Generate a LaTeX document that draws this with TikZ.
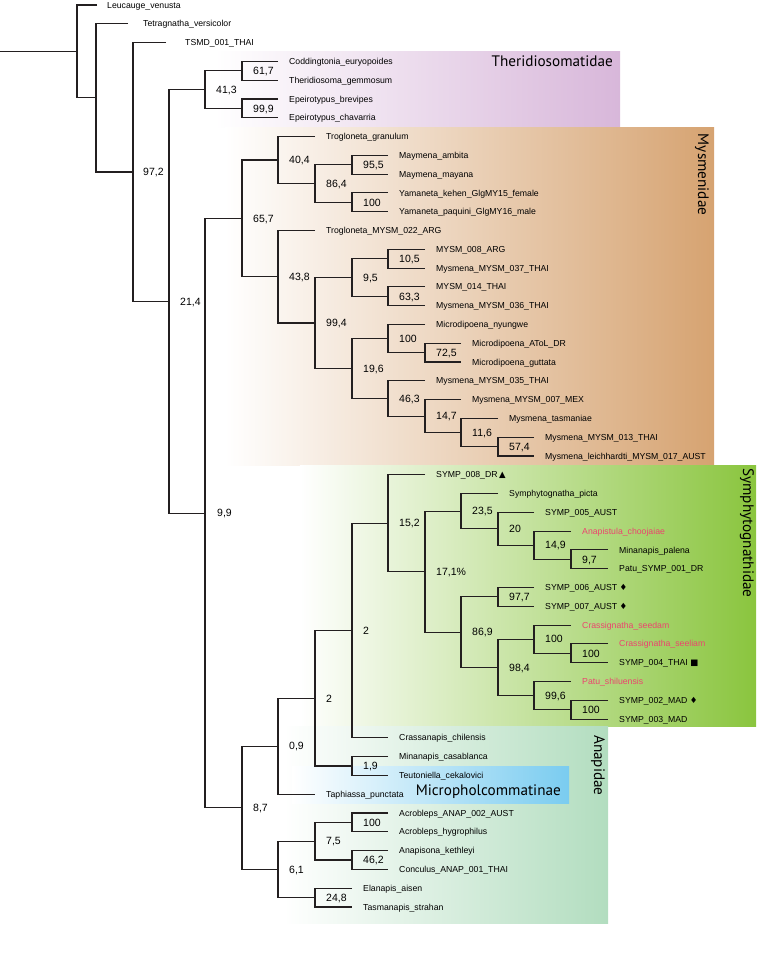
\documentclass[tikz,border=0pt]{standalone}
\usepackage{fontspec}
\setmainfont{Liberation Sans}
\newfontfamily\famfont{PT Sans}
\newfontfamily\symfont{DejaVu Sans}
\usetikzlibrary{positioning}

\definecolor{treeline}{RGB}{35,31,32}
\definecolor{theridark}{RGB}{216,183,218}
\definecolor{mysmdark}{RGB}{214,163,113}
\definecolor{sympdark}{RGB}{138,197,62}
\definecolor{anapdark}{RGB}{178,221,191}
\definecolor{microdark}{RGB}{122,204,240}
\definecolor{newsp}{RGB}{236,68,110}

\newcommand{\spsym}[1]{{\symfont\fontsize{8.5}{9}\selectfont #1}}

\begin{document}
\begin{tikzpicture}[x=1pt,y=-18.79pt,
  branch/.style={line width=1.1pt,color=treeline},
  leaf/.style={anchor=west,inner sep=0pt,text height=6.2pt,text depth=0pt,
    font=\fontsize{8.7}{10}\selectfont},
  redleaf/.style={leaf,text=newsp},
  boot/.style={anchor=west,inner sep=0pt,text height=7.5pt,text depth=0pt,
    font=\fontsize{10.5}{12}\selectfont},
  family/.style={inner sep=0pt,font=\famfont\fontsize{15.2}{18}\selectfont}]

\useasboundingbox (0,-0.266) rectangle (756,50.61);

% family boxes
\shade[left color=white,right color=theridark] (215,2.5) rectangle (620,6.5);
\shade[left color=white,right color=mysmdark] (225,6.5) rectangle (714,24.5);
\shade[left color=white,right color=sympdark] (300,24.5) rectangle (756,38.4);
\shade[left color=white,right color=anapdark] (284,38.4) rectangle (608,48.9);
\shade[left color=white,right color=microdark] (292,40.5) rectangle (569,42.5);

% inner nodes
\coordinate (root) at (0,2.471);
\coordinate (A) at (77,2.471);
\coordinate (B) at (96,4.942);
\coordinate (n972) at (133,8.885);
\coordinate (n214) at (169,15.770);
\coordinate (n413) at (205,4.5);
\coordinate (n617) at (242,3.5);
\coordinate (n999) at (242,5.5);
\coordinate (n99) at (205,27.040);
\coordinate (n657) at (242,11.355);
\coordinate (n404) at (278,8.25);
\coordinate (n864) at (315,9.5);
\coordinate (n955) at (352,8.5);
\coordinate (n100a) at (352,10.5);
\coordinate (n438) at (278,14.461);
\coordinate (n994) at (315,16.922);
\coordinate (n95) at (352,14.5);
\coordinate (n105) at (388,13.5);
\coordinate (n633) at (388,15.5);
\coordinate (n196) at (352,19.344);
\coordinate (n100b) at (388,17.75);
\coordinate (n725) at (425,18.5);
\coordinate (n463) at (388,20.938);
\coordinate (n147) at (425,21.875);
\coordinate (n116) at (461,22.75);
\coordinate (n574) at (498,23.5);
\coordinate (n87) at (242,42.724);
\coordinate (n09) at (278,39.447);
\coordinate (n2b) at (315,36.895);
\coordinate (n2a) at (352,33.289);
\coordinate (n152) at (388,27.578);
\coordinate (n171) at (425,30.156);
\coordinate (n235) at (461,26.938);
\coordinate (n20) at (498,27.875);
\coordinate (n149) at (534,28.75);
\coordinate (n97) at (571,29.5);
\coordinate (n869) at (461,33.375);
\coordinate (n977) at (498,31.5);
\coordinate (n984) at (498,35.25);
\coordinate (n100d) at (534,33.75);
\coordinate (n100c) at (571,34.5);
\coordinate (n996) at (534,36.75);
\coordinate (n100e) at (571,37.5);
\coordinate (n19) at (352,40.5);
\coordinate (n61) at (278,46);
\coordinate (n75) at (315,44.5);
\coordinate (n100f) at (352,43.5);
\coordinate (n462) at (352,45.5);
\coordinate (n248) at (315,47.5);

% tips
\coordinate (e0) at (97,0);
\coordinate (e1) at (128,1);
\coordinate (e2) at (166,2);
\coordinate (e3) at (278,3);
\coordinate (e4) at (278,4);
\coordinate (e5) at (278,5);
\coordinate (e6) at (278,6);
\coordinate (e7) at (315,7);
\coordinate (e8) at (388,8);
\coordinate (e9) at (388,9);
\coordinate (e10) at (388,10);
\coordinate (e11) at (388,11);
\coordinate (e12) at (315,12);
\coordinate (e13) at (425,13);
\coordinate (e14) at (425,14);
\coordinate (e15) at (425,15);
\coordinate (e16) at (425,16);
\coordinate (e17) at (425,17);
\coordinate (e18) at (461,18);
\coordinate (e19) at (461,19);
\coordinate (e20) at (425,20);
\coordinate (e21) at (461,21);
\coordinate (e22) at (498,22);
\coordinate (e23) at (534,23);
\coordinate (e24) at (534,24);
\coordinate (e25) at (425,25);
\coordinate (e26) at (498,26);
\coordinate (e27) at (534,27);
\coordinate (e28) at (571,28);
\coordinate (e29) at (608,29);
\coordinate (e30) at (608,30);
\coordinate (e31) at (534,31);
\coordinate (e32) at (534,32);
\coordinate (e33) at (571,33);
\coordinate (e34) at (608,34);
\coordinate (e35) at (608,35);
\coordinate (e36) at (571,36);
\coordinate (e37) at (608,37);
\coordinate (e38) at (608,38);
\coordinate (e39) at (388,39);
\coordinate (e40) at (388,40);
\coordinate (e41) at (388,41);
\coordinate (e42) at (315,42);
\coordinate (e43) at (388,43);
\coordinate (e44) at (388,44);
\coordinate (e45) at (388,45);
\coordinate (e46) at (388,46);
\coordinate (e47) at (352,47);
\coordinate (e48) at (352,48);

% branches
\draw[branch] (root) -- (A);
\draw[branch] (e0) -| (A) |- (B);
\draw[branch] (e1) -| (B) |- (n972);
\draw[branch] (e2) -| (n972) |- (n214);
\draw[branch] (n413) -| (n214) |- (n99);
\draw[branch] (n617) -| (n413) |- (n999);
\draw[branch] (e3) -| (n617) |- (e4);
\draw[branch] (e5) -| (n999) |- (e6);
\draw[branch] (n657) -| (n99) |- (n87);
\draw[branch] (n404) -| (n657) |- (n438);
\draw[branch] (e7) -| (n404) |- (n864);
\draw[branch] (n955) -| (n864) |- (n100a);
\draw[branch] (e8) -| (n955) |- (e9);
\draw[branch] (e10) -| (n100a) |- (e11);
\draw[branch] (e12) -| (n438) |- (n994);
\draw[branch] (n95) -| (n994) |- (n196);
\draw[branch] (n105) -| (n95) |- (n633);
\draw[branch] (e13) -| (n105) |- (e14);
\draw[branch] (e15) -| (n633) |- (e16);
\draw[branch] (n100b) -| (n196) |- (n463);
\draw[branch] (e17) -| (n100b) |- (n725);
\draw[branch] (e18) -| (n725) |- (e19);
\draw[branch] (e20) -| (n463) |- (n147);
\draw[branch] (e21) -| (n147) |- (n116);
\draw[branch] (e22) -| (n116) |- (n574);
\draw[branch] (e23) -| (n574) |- (e24);
\draw[branch] (n09) -| (n87) |- (n61);
\draw[branch] (n2b) -| (n09) |- (e42);
\draw[branch] (n2a) -| (n2b) |- (n19);
\draw[branch] (n152) -| (n2a) |- (e39);
\draw[branch] (e25) -| (n152) |- (n171);
\draw[branch] (n235) -| (n171) |- (n869);
\draw[branch] (e26) -| (n235) |- (n20);
\draw[branch] (e27) -| (n20) |- (n149);
\draw[branch] (e28) -| (n149) |- (n97);
\draw[branch] (e29) -| (n97) |- (e30);
\draw[branch] (n977) -| (n869) |- (n984);
\draw[branch] (e31) -| (n977) |- (e32);
\draw[branch] (n100d) -| (n984) |- (n996);
\draw[branch] (e33) -| (n100d) |- (n100c);
\draw[branch] (e34) -| (n100c) |- (e35);
\draw[branch] (e36) -| (n996) |- (n100e);
\draw[branch] (e37) -| (n100e) |- (e38);
\draw[branch] (e40) -| (n19) |- (e41);
\draw[branch] (n75) -| (n61) |- (n248);
\draw[branch] (n100f) -| (n75) |- (n462);
\draw[branch] (e43) -| (n100f) |- (e44);
\draw[branch] (e45) -| (n462) |- (e46);
\draw[branch] (e47) -| (n248) |- (e48);

% support values
\node[boot,right=10pt of n972] (b972) {97,2};
\node[boot,right=11pt of n214] (b214) {21,4};
\node[boot,right=11pt of n413] (b413) {41,3};
\node[boot,right=11pt of n617] (b617) {61,7};
\node[boot,right=11pt of n999] (b999) {99,9};
\node[boot,right=12pt of n99] (b99) {9,9};
\node[boot,right=11pt of n657] (b657) {65,7};
\node[boot,right=11pt of n404] (b404) {40,4};
\node[boot,right=11pt of n864] (b864) {86,4};
\node[boot,right=11pt of n955] (b955) {95,5};
\node[boot,right=11pt of n100a] (b100a) {100};
\node[boot,right=11pt of n438] (b438) {43,8};
\node[boot,right=11pt of n994] (b994) {99,4};
\node[boot,right=11pt of n95] (b95) {9,5};
\node[boot,right=11pt of n105] (b105) {10,5};
\node[boot,right=11pt of n633] (b633) {63,3};
\node[boot,right=11pt of n196] (b196) {19,6};
\node[boot,right=11pt of n100b] (b100b) {100};
\node[boot,right=11pt of n725] (b725) {72,5};
\node[boot,right=11pt of n463] (b463) {46,3};
\node[boot,right=11pt of n147] (b147) {14,7};
\node[boot,right=11pt of n116] (b116) {11,6};
\node[boot,right=11pt of n574] (b574) {57,4};
\node[boot,right=11pt of n87] (b87) {8,7};
\node[boot,right=11pt of n09] (b09) {0,9};
\node[boot,right=11pt of n2b] (b2b) {2};
\node[boot,right=11pt of n2a] (b2a) {2};
\node[boot,right=11pt of n152] (b152) {15,2};
\node[boot,right=11pt of n171] (b171) {17,1\%};
\node[boot,right=11pt of n235] (b235) {23,5};
\node[boot,right=11pt of n20] (b20) {20};
\node[boot,right=11pt of n149] (b149) {14,9};
\node[boot,right=11pt of n97] (b97) {9,7};
\node[boot,right=11pt of n869] (b869) {86,9};
\node[boot,right=11pt of n977] (b977) {97,7};
\node[boot,right=11pt of n984] (b984) {98,4};
\node[boot,right=11pt of n100d] (b100d) {100};
\node[boot,right=11pt of n100c] (b100c) {100};
\node[boot,right=11pt of n996] (b996) {99,6};
\node[boot,right=11pt of n100e] (b100e) {100};
\node[boot,right=11pt of n19] (b19) {1,9};
\node[boot,right=11pt of n61] (b61) {6,1};
\node[boot,right=11pt of n75] (b75) {7,5};
\node[boot,right=11pt of n100f] (b100f) {100};
\node[boot,right=11pt of n462] (b462) {46,2};
\node[boot,right=11pt of n248] (b248) {24,8};

% taxa
\node[leaf,right=10pt of e0] (t0) {Leucauge\_venusta};
\node[leaf,right=15pt of e1] (t1) {Tetragnatha\_versicolor};
\node[leaf,right=19pt of e2] (t2) {TSMD\_001\_THAI};
\node[leaf,right=11pt of e3] (t3) {Coddingtonia\_euryopoides};
\node[leaf,right=11pt of e4] (t4) {Theridiosoma\_gemmosum};
\node[leaf,right=11pt of e5] (t5) {Epeirotypus\_brevipes};
\node[leaf,right=11pt of e6] (t6) {Epeirotypus\_chavarria};
\node[leaf,right=11pt of e7] (t7) {Trogloneta\_granulum};
\node[leaf,right=11pt of e8] (t8) {Maymena\_ambita};
\node[leaf,right=11pt of e9] (t9) {Maymena\_mayana};
\node[leaf,right=11pt of e10] (t10) {Yamaneta\_kehen\_GlgMY15\_female};
\node[leaf,right=11pt of e11] (t11) {Yamaneta\_paquini\_GlgMY16\_male};
\node[leaf,right=11pt of e12] (t12) {Trogloneta\_MYSM\_022\_ARG};
\node[leaf,right=11pt of e13] (t13) {MYSM\_008\_ARG};
\node[leaf,right=11pt of e14] (t14) {Mysmena\_MYSM\_037\_THAI};
\node[leaf,right=11pt of e15] (t15) {MYSM\_014\_THAI};
\node[leaf,right=11pt of e16] (t16) {Mysmena\_MYSM\_036\_THAI};
\node[leaf,right=11pt of e17] (t17) {Microdipoena\_nyungwe};
\node[leaf,right=11pt of e18] (t18) {Microdipoena\_AToL\_DR};
\node[leaf,right=11pt of e19] (t19) {Microdipoena\_guttata};
\node[leaf,right=11pt of e20] (t20) {Mysmena\_MYSM\_035\_THAI};
\node[leaf,right=11pt of e21] (t21) {Mysmena\_MYSM\_007\_MEX};
\node[leaf,right=11pt of e22] (t22) {Mysmena\_tasmaniae};
\node[leaf,right=11pt of e23] (t23) {Mysmena\_MYSM\_013\_THAI};
\node[leaf,right=11pt of e24] (t24) {Mysmena\_leichhardti\_MYSM\_017\_AUST};
\node[leaf,right=11pt of e25] (t25) {SYMP\_008\_DR\,\spsym{▲}};
\node[leaf,right=11pt of e26] (t26) {Symphytognatha\_picta};
\node[leaf,right=11pt of e27] (t27) {SYMP\_005\_AUST};
\node[redleaf,right=11pt of e28] (t28) {Anapistula\_choojaiae};
\node[leaf,right=11pt of e29] (t29) {Minanapis\_palena};
\node[leaf,right=11pt of e30] (t30) {Patu\_SYMP\_001\_DR};
\node[leaf,right=11pt of e31] (t31) {SYMP\_006\_AUST \spsym{♦}};
\node[leaf,right=11pt of e32] (t32) {SYMP\_007\_AUST \spsym{♦}};
\node[redleaf,right=11pt of e33] (t33) {Crassignatha\_seedam};
\node[redleaf,right=11pt of e34] (t34) {Crassignatha\_seeliam};
\node[leaf,right=11pt of e35] (t35) {SYMP\_004\_THAI \spsym{■}};
\node[redleaf,right=11pt of e36] (t36) {Patu\_shiluensis};
\node[leaf,right=11pt of e37] (t37) {SYMP\_002\_MAD \spsym{♦}};
\node[leaf,right=11pt of e38] (t38) {SYMP\_003\_MAD};
\node[leaf,right=11pt of e39] (t39) {Crassanapis\_chilensis};
\node[leaf,right=11pt of e40] (t40) {Minanapis\_casablanca};
\node[leaf,right=11pt of e41] (t41) {Teutoniella\_cekalovici};
\node[leaf,right=11pt of e42] (t42) {Taphiassa\_punctata};
\node[leaf,right=11pt of e43] (t43) {Acrobleps\_ANAP\_002\_AUST};
\node[leaf,right=11pt of e44] (t44) {Acrobleps\_hygrophilus};
\node[leaf,right=11pt of e45] (t45) {Anapisona\_kethleyi};
\node[leaf,right=11pt of e46] (t46) {Conculus\_ANAP\_001\_THAI};
\node[leaf,right=11pt of e47] (t47) {Elanapis\_aisen};
\node[leaf,right=11pt of e48] (t48) {Tasmanapis\_strahan};

% family names
\node[family,anchor=east] (theri) at (613,3.0) {Theridiosomatidae};
\node[family,rotate=-90,anchor=west] (mysm) at (702,6.85) {Mysmenidae};
\node[family,rotate=-90,anchor=west] (symp) at (747,24.65) {Symphytognathidae};
\node[family,rotate=-90,anchor=west] (anap) at (598,38.85) {Anapidae};
\node[family,anchor=east] (micro) at (561,41.85) {Micropholcommatinae};
\end{tikzpicture}
\end{document}
